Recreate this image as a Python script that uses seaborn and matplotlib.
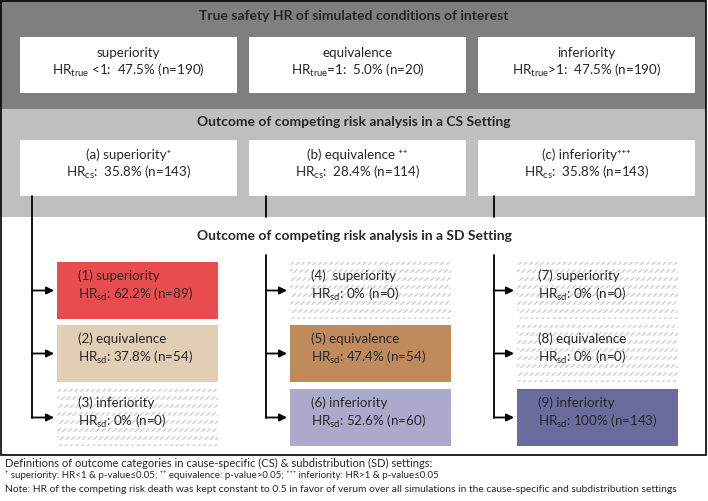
import matplotlib
matplotlib.use("Agg")
import matplotlib.pyplot as plt
import seaborn as sns
from matplotlib.patches import Rectangle

# values
true_labels = ["superiority", "equivalence", "inferiority"]
true_ops = [" <1", "=1", ">1"]
true_pct = [47.5, 5.0, 47.5]
true_n = [190, 20, 190]

cs_labels = ["(a) superiority", "(b) equivalence", "(c) inferiority"]
cs_marks = ["\u207a", " \u207a\u207a", "\u207a\u207a\u207a"]
cs_pct = [35.8, 28.4, 35.8]
cs_n = [143, 114, 143]

sd_labels = ["(1) superiority", "(2) equivalence", "(3) inferiority",
             "(4)  superiority", "(5) equivalence", "(6) inferiority",
             "(7) superiority", "(8) equivalence", "(9) inferiority"]
sd_pct = ["62.2%", "37.8%", "0%", "0%", "47.4%", "52.6%", "0%", "0%", "100%"]
sd_n = [89, 54, 0, 0, 54, 60, 0, 0, 143]
sd_colors = ["#e84c4f", "#e2cdb5", None, None, "#bf8b5c", "#abaacb", None, None, "#6b6b9e"]

titles = ["True safety HR of simulated conditions of interest",
          "Outcome of competing risk analysis in a CS Setting",
          "Outcome of competing risk analysis in a SD Setting"]
notes = ["Definitions of outcome categories in cause-specific (CS) & subdistribution (SD) settings:",
         "\u207a superiority: HR<1 & p-value\u22640.05; \u207a\u207a equivalence: p-value>0.05; "
         "\u207a\u207a\u207a inferiority: HR>1 & p-value\u22640.05",
         "Note: HR of the competing risk death was kept constant to 0.5 in favor of verum over all simulations "
         "in the cause-specific and subdistribution settings"]

sns.set_style("white")
plt.rcParams["font.family"] = ["Lato", "DejaVu Sans"]
plt.rcParams["mathtext.default"] = "regular"

fig = plt.figure(figsize=(7.08, 5.01), dpi=100)
ax = fig.add_axes([0, 0, 1, 1])
ax.set_xlim(0, 708)
ax.set_ylim(501, 0)
ax.axis("off")

# background bands
ax.add_patch(Rectangle((0, 0), 706, 109, fc="#7f7f7f", ec="none"))
ax.add_patch(Rectangle((0, 109), 706, 108, fc="#bfbfbf", ec="none"))
ax.add_patch(Rectangle((0, 217), 706, 238, fc="white", ec="none"))
ax.add_patch(Rectangle((0.5, 0.5), 705, 454, fc="none", ec="black", lw=1.2))

title_y = [16, 122, 236]
for t, y in zip(titles, title_y):
    ax.text(354, y, t, ha="center", va="center", fontsize=10, fontweight="bold")

top_x = [20, 249, 478]
top_w = 217
fs = 9.6

# row 1: true HR
for i in range(3):
    x = top_x[i]
    ax.add_patch(Rectangle((x, 37), top_w, 56, fc="white", ec="none"))
    ax.text(x + top_w / 2, 53, true_labels[i], ha="center", va="center", fontsize=fs)
    ax.text(x + top_w / 2, 70, f"HR$_{{true}}${true_ops[i]}:  {true_pct[i]:.1f}% (n={true_n[i]})",
            ha="center", va="center", fontsize=fs)

# row 2: CS setting
for i in range(3):
    x = top_x[i]
    ax.add_patch(Rectangle((x, 140), top_w, 56, fc="white", ec="none"))
    ax.text(x + top_w / 2, 155, f"{cs_labels[i]}{cs_marks[i]}", ha="center", va="center", fontsize=fs)
    ax.text(x + top_w / 2, 172, f"HR$_{{cs}}$:  {cs_pct[i]:.1f}% (n={cs_n[i]})",
            ha="center", va="center", fontsize=fs)

# row 3: SD setting
col_x = [57, 290, 517]
col_w = 161
row_y = [262, 325, 389]
row_h = 57
line_x = [32, 266, 494]
for c in range(3):
    lx = line_x[c]
    bottom = row_y[2] + row_h / 2
    if c == 0:
        ax.plot([lx, lx], [196, bottom], color="black", lw=1.3)
    else:
        ax.plot([lx, lx], [196, 217], color="black", lw=1.3)
        ax.plot([lx, lx], [255, bottom], color="black", lw=1.3)
    for r in range(3):
        k = c * 3 + r
        x, y = col_x[c], row_y[r]
        if sd_colors[k] is None:
            ax.add_patch(Rectangle((x, y), col_w, row_h, fc="white", ec="#cccccc",
                                   lw=0, hatch="//////"))
            # break the hatch into rows of short dashes
            for yy in range(y + 5, y + row_h, 8):
                ax.plot([x, x + col_w], [yy, yy], color="white", lw=3.2,
                        solid_capstyle="butt")
        else:
            ax.add_patch(Rectangle((x, y), col_w, row_h, fc=sd_colors[k], ec="none"))
        ax.text(x + 21, y + 14, sd_labels[k], ha="left", va="center", fontsize=fs)
        ax.text(x + 21, y + 32, f"HR$_{{sd}}$: {sd_pct[k]} (n={sd_n[k]})",
                ha="left", va="center", fontsize=fs)
        ym = y + row_h / 2
        ax.annotate("", xy=(x - 3, ym), xytext=(lx, ym),
                    arrowprops=dict(arrowstyle="-|>", color="black", lw=1.3,
                                    mutation_scale=11, shrinkA=0, shrinkB=0))

# footnotes
for t, y, s in zip(notes, [463, 475, 489], [8.0, 7.0, 7.4]):
    ax.text(5, y, t, ha="left", va="center", fontsize=s)

fig.savefig("out.png", dpi=100)
